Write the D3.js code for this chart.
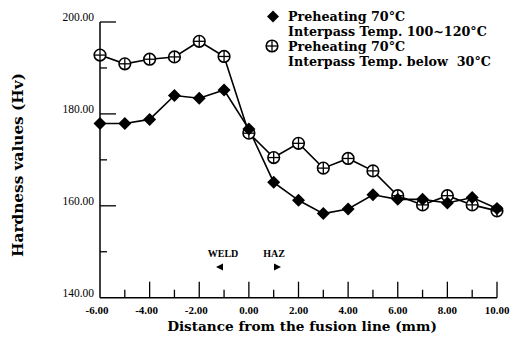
<!DOCTYPE html>
<html><head><meta charset="utf-8">
<script src="https://cdn.jsdelivr.net/npm/d3@7"></script>
<style>body{margin:0;background:#fff}svg{display:block}</style>
</head><body>
<script>
const distances = [-6,-5,-4,-3,-2,-1,0,1,2,3,4,5,6,7,8,9,10];
const interpassHot = [177.9,177.9,178.8,184.0,183.4,185.2,176.7,165.1,161.2,158.3,159.3,162.4,161.4,161.4,160.6,161.8,159.4];
const interpassCold = [192.8,190.9,191.9,192.4,195.8,192.5,175.8,170.5,173.6,168.2,170.3,167.6,162.2,160.2,162.2,160.2,158.9];
const xTicks = [-6,-4,-2,0,2,4,6,8,10];
const yTicks = [140,160,180,200];
const legendLines = [["Preheating 70°C","Interpass Temp. 100~120°C"],["Preheating 70°C","Interpass Temp. below  30°C"]];

const W=514,H=341;
const svg=d3.select("body").append("svg").attr("width",W).attr("height",H);
const x=d3.scaleLinear().domain([-6,10]).range([100,497]);
const y=d3.scaleLinear().domain([140,200]).range([297.7,22]);
const font="'Liberation Serif', 'Times New Roman', serif";
const wide="'DejaVu Serif', serif";

function fit(sel,target){
  const n=sel.node(); const fs=parseFloat(sel.attr("font-size"));
  const w=n.getComputedTextLength(); sel.attr("font-size",fs*target/w);
}

// axes
const ax=svg.append("g").attr("stroke","#000").attr("fill","none");
ax.append("line").attr("x1",x(-6)).attr("x2",x(-6)).attr("y1",y(200)).attr("y2",y(140)).attr("stroke-width",1.5);
ax.append("line").attr("x1",x(-6)).attr("x2",x(10)).attr("y1",y(140)).attr("y2",y(140)).attr("stroke-width",1.5);
d3.range(140,201,10).forEach(v=>{
  if(v===140) return;
  ax.append("line").attr("x1",x(-6)).attr("x2",x(-6)+(v%20===0?16:7)).attr("y1",y(v)).attr("y2",y(v)).attr("stroke-width",1.3);
});
d3.range(-5,11,1).forEach(v=>{
  ax.append("line").attr("x1",x(v)).attr("x2",x(v)).attr("y1",y(140)).attr("y2",y(140)-(v%2===0?16:8)).attr("stroke-width",1.3);
});
svg.selectAll(".yl").data(yTicks).enter().append("text")
  .attr("x",94).attr("y",d=>y(d)-1).attr("text-anchor","end")
  .attr("font-family",font).attr("font-size",11.5).text(d=>d.toFixed(2));
svg.selectAll(".xl").data(xTicks).enter().append("text")
  .attr("x",d=>x(d)-(d<0?3:0)).attr("y",314).attr("text-anchor","middle")
  .attr("font-family",font).attr("font-size",11).attr("font-weight","bold").text(d=>d.toFixed(2));

const xt=svg.append("text").attr("x",302).attr("y",331).attr("text-anchor","middle")
  .attr("font-family",wide).attr("font-size",14).attr("font-weight","bold")
  .text("Distance from the fusion line (mm)");
fit(xt,270);
const yt=svg.append("text").attr("transform","translate(23,165) rotate(-90)").attr("text-anchor","middle")
  .attr("font-family",wide).attr("font-size",14).attr("font-weight","bold")
  .text("Hardness values (Hv)");
fit(yt,184);

// WELD / HAZ
svg.append("text").attr("x",223).attr("y",257).attr("text-anchor","middle").attr("font-family",font).attr("font-size",10).attr("font-weight","bold").text("WELD");
svg.append("text").attr("x",274).attr("y",257).attr("text-anchor","middle").attr("font-family",font).attr("font-size",10).attr("font-weight","bold").text("HAZ");
svg.append("path").attr("d","M216,267 L223,263.5 L223,270.5 Z").attr("fill","#000");
svg.append("path").attr("d","M281,267 L274,263.5 L274,270.5 Z").attr("fill","#000");

// lines
const line=d3.line().x((d,i)=>x(distances[i])).y(d=>y(d));
svg.append("path").datum(interpassCold).attr("d",line).attr("fill","none").attr("stroke","#000").attr("stroke-width",1.6);
svg.append("path").datum(interpassHot).attr("d",line).attr("fill","none").attr("stroke","#000").attr("stroke-width",1.6);

function circlePlus(g,cx,cy){
  g.append("circle").attr("cx",cx).attr("cy",cy).attr("r",5.8).attr("fill","#fff").attr("stroke","#000").attr("stroke-width",1.6);
  g.append("line").attr("x1",cx-5.5).attr("x2",cx+5.5).attr("y1",cy).attr("y2",cy).attr("stroke","#000").attr("stroke-width",1.3);
  g.append("line").attr("x1",cx).attr("x2",cx).attr("y1",cy-5.5).attr("y2",cy+5.5).attr("stroke","#000").attr("stroke-width",1.3);
}
function diamond(g,cx,cy,s){
  g.append("path").attr("d",`M${cx},${cy-s} L${cx+s},${cy} L${cx},${cy+s} L${cx-s},${cy} Z`).attr("fill","#000");
}
const mk=svg.append("g");
interpassCold.forEach((v,i)=>circlePlus(mk,x(distances[i]),y(v)));
interpassHot.forEach((v,i)=>diamond(mk,x(distances[i]),y(v),6.5));

// legend
const lg=svg.append("g").attr("font-family",wide).attr("font-weight","bold");
diamond(lg,273,16.5,6);
circlePlus(lg,272,46);
const lx=288, ly=[21,36,51,66];
const allL=[legendLines[0][0],legendLines[0][1],legendLines[1][0],legendLines[1][1]];
const texts=allL.map((t,i)=>lg.append("text").attr("x",lx).attr("y",ly[i]).attr("font-size",13).style("white-space","pre").text(t));
const w1=texts[1].node().getComputedTextLength();
const fs=Math.min(12.7,13*215/w1);
texts.forEach(t=>t.attr("font-size",fs));
</script>
</body></html>
